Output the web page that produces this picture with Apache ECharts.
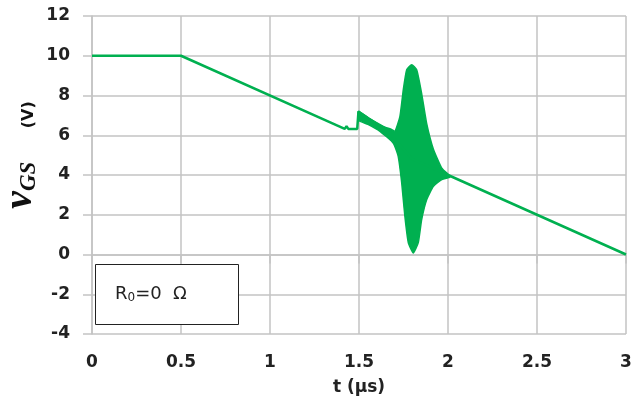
<!DOCTYPE html>
<html>
<head>
<meta charset="utf-8">
<script src="https://cdn.jsdelivr.net/npm/echarts@6/dist/echarts.min.js"></script>
<style>
  html, body { margin: 0; padding: 0; background: #fff; }
  #chart { width: 635px; height: 405px; }
</style>
</head>
<body>
<div id="chart"></div>
<script>
// 主曲线 (t [µs], vGS [V])
var mainLine = [
  [0, 10], [0.5, 10], [1.42, 6.32], [1.43, 6.45], [1.44, 6.32], [1.49, 6.32],
  [1.497, 7.2], [1.55, 6.85], [1.6, 6.6], [1.65, 6.35], [1.68, 6.05],
  [1.72, 5.6], [1.8, 4.8], [1.9, 4.4], [2.0, 4.0], [3.0, 0]
];
// 振荡包络 上沿 / 下沿
var envUpper = [
  [1.497, 7.2], [1.55, 6.9], [1.618, 6.5], [1.68, 6.3], [1.702, 6.2],
  [1.73, 6.95], [1.749, 8.3], [1.768, 9.3], [1.796, 9.55], [1.824, 9.3],
  [1.852, 8.1], [1.88, 6.6], [1.918, 5.3], [1.965, 4.35], [2.01, 3.95]
];
var envLower = [
  [1.497, 6.75], [1.55, 6.55], [1.618, 6.2], [1.693, 5.6], [1.72, 4.95],
  [1.74, 3.6], [1.758, 1.9], [1.777, 0.6], [1.805, 0.08], [1.833, 0.6],
  [1.852, 1.76], [1.88, 2.76], [1.918, 3.43], [1.965, 3.77], [2.01, 3.88]
];
var xTicks = [0, 0.5, 1, 1.5, 2, 2.5, 3];
var yTicks = [-4, -2, 0, 2, 4, 6, 8, 10, 12];

var green = '#00B050';
var gridGray = '#c3c3c3';
var labelFont = { color: '#222', fontSize: 17, fontWeight: 'bold', fontFamily: 'DejaVu Sans' };

var myChart = echarts.init(document.getElementById('chart'));

var option = {
  animation: false,
  grid: { left: 92, right: 9, top: 16, bottom: 71 },
  xAxis: {
    type: 'value',
    min: xTicks[0], max: xTicks[xTicks.length - 1], interval: 0.5,
    axisLine: { show: true, lineStyle: { color: gridGray, width: 1.5 } },
    axisTick: { show: true, length: 9, lineStyle: { color: gridGray, width: 1.5 } },
    splitLine: { show: true, lineStyle: { color: gridGray, width: 1.5 } },
    axisLabel: Object.assign({ margin: 20 }, labelFont),
    name: 't (µs)',
    nameLocation: 'middle',
    nameGap: 45,
    nameTextStyle: labelFont
  },
  yAxis: {
    type: 'value',
    min: yTicks[0], max: yTicks[yTicks.length - 1], interval: 2,
    axisLine: { show: true, lineStyle: { color: gridGray, width: 1.5 } },
    axisTick: { show: true, length: 9, lineStyle: { color: gridGray, width: 1.5 } },
    splitLine: { show: true, lineStyle: { color: gridGray, width: 1.5 } },
    axisLabel: Object.assign({ margin: 22 }, labelFont)
  },
  series: [
    {
      // 振荡区 (包络填充)
      type: 'custom',
      silent: true,
      data: [[1.8, 4.8]],
      encode: { x: 0, y: 1 },
      renderItem: function (params, api) {
        var pts = [];
        envUpper.forEach(function (p) { pts.push(api.coord(p)); });
        envLower.slice().reverse().forEach(function (p) { pts.push(api.coord(p)); });
        return {
          type: 'polygon',
          shape: { points: pts, smooth: 0.15 },
          style: { fill: green, stroke: green, lineWidth: 1.5 }
        };
      },
      z: 3
    },
    {
      type: 'line',
      data: mainLine,
      showSymbol: false,
      symbol: 'none',
      lineStyle: { color: green, width: 2.5 },
      z: 4
    }
  ],
  graphic: [
    {
      type: 'text',
      x: 21, y: 155,
      rotation: Math.PI / 2,
      style: {
        text: '{v|v}{s|GS}{n|      (V)}',
        align: 'center',
        verticalAlign: 'middle',
        rich: {
          v: { fontSize: 40, fontStyle: 'italic', fontWeight: 'bold', fontFamily: 'Liberation Serif', fill: '#111', verticalAlign: 'bottom' },
          s: { fontSize: 23, fontStyle: 'italic', fontWeight: 'bold', fontFamily: 'Liberation Serif', fill: '#111', verticalAlign: 'bottom' },
          n: { fontSize: 16, fontWeight: 'bold', fontFamily: 'DejaVu Sans', fill: '#111', verticalAlign: 'bottom', padding: [0, 0, 4, 0] }
        }
      }
    },
    {
      type: 'rect',
      shape: { x: 95.5, y: 264.5, width: 143, height: 60 },
      style: { fill: '#fff', stroke: '#222', lineWidth: 1 },
      z: 10
    },
    {
      type: 'text',
      x: 115, y: 294,
      style: {
        text: '{a|R}{b|0}{a|=0  Ω}',
        verticalAlign: 'middle',
        rich: {
          a: { fontSize: 18, fontFamily: 'DejaVu Sans', fill: '#222' },
          b: { fontSize: 12, fontFamily: 'DejaVu Sans', fill: '#222', padding: [8, 0, 0, 0] }
        }
      },
      z: 11
    }
  ]
};

myChart.setOption(option);
</script>
</body>
</html>
